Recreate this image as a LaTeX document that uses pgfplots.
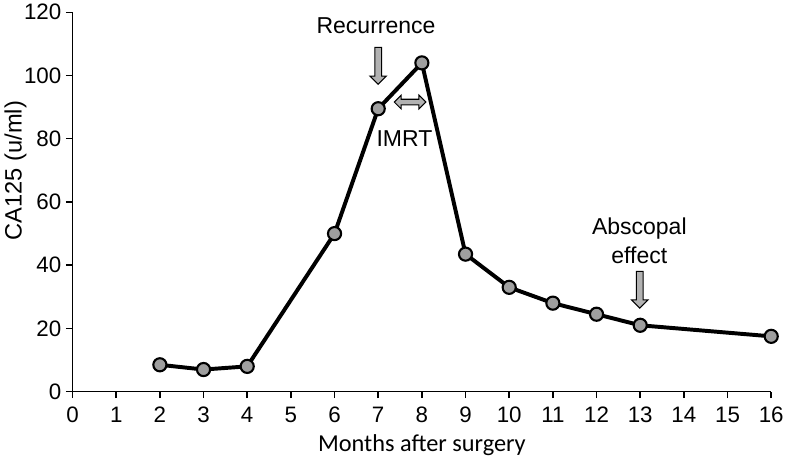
\documentclass[border=0pt]{standalone}
\usepackage{pgfplots}
\pgfplotsset{compat=1.18}
\usepackage{fontspec}
\setmainfont{Liberation Sans}
\newfontfamily\calibri{Carlito}
\newfontfamily\arialtick{Liberation Sans}
\usetikzlibrary{shapes.arrows}
\begin{document}
\begin{tikzpicture}
\begin{axis}[
  scale only axis,
  width=531.75pt, height=288.75pt,
  xmin=0, xmax=16, ymin=0, ymax=120,
  xtick={0,...,16}, ytick={0,20,...,120},
  axis x line*=bottom, axis y line*=left,
  axis line style={line width=1.1pt},
  tick style={line width=1.1pt, black},
  tick align=outside, major tick length=5pt,
  tick label style={font=\arialtick\fontsize{17}{20}\selectfont},
  xticklabel style={yshift=-3pt},
  xticklabel={\mbox{\arialtick\fontsize{17}{20}\selectfont\pgfmathprintnumber[assume math mode=true]{\tick}}},
  yticklabel={\mbox{\arialtick\fontsize{17}{20}\selectfont\pgfmathprintnumber[assume math mode=true]{\tick}}},
  xlabel={\calibri\fontsize{18.5}{22}\selectfont Months after surgery},
  ylabel={\fontsize{18}{21}\selectfont CA125 (u/ml)},
  xlabel style={at={(axis description cs:0.5,0)}, anchor=center, yshift=-41pt},
  ylabel style={at={(axis description cs:-0.0818,0.583)}, anchor=center},
  clip=false,
]
\addplot[black, line width=3pt, mark=*, mark size=5pt,
  mark options={fill=gray!75, draw=black, line width=1.6pt}]
  coordinates {(2,8.5)(3,7)(4,8)(6,50)(7,89.5)(8,104)(9,43.5)(10,33)(11,28)(12,24.5)(13,21)(16,17.5)};
\node[font=\fontsize{17.5}{21}\selectfont] at (axis cs:6.95,115.8) {Recurrence};
\node[font=\fontsize{17.5}{21}\selectfont] at (axis cs:7.6,80) {IMRT};
\node[font=\fontsize{17.5}{21}\selectfont] at (axis cs:12.98,51.7) {Abscopal};
\node[font=\fontsize{17.5}{21}\selectfont] at (axis cs:12.98,43.1) {effect};
\node[single arrow, draw=black, fill=gray!60, line width=0.8pt, rotate=-90,
  minimum height=28pt, minimum width=12.5pt, single arrow head extend=2.8pt,
  inner sep=1.5pt, anchor=tip] at (axis cs:7,97) {};
\node[single arrow, draw=black, fill=gray!60, line width=0.8pt, rotate=-90,
  minimum height=28pt, minimum width=12.5pt, single arrow head extend=2.8pt,
  inner sep=1.5pt, anchor=tip] at (axis cs:12.99,26.2) {};
\node[double arrow, draw=black, fill=gray!60, line width=0.8pt,
  minimum height=24pt, minimum width=10.5pt, double arrow head extend=2.3pt,
  inner sep=1.2pt] at (axis cs:7.73,91.6) {};
\end{axis}
\end{tikzpicture}
\end{document}
